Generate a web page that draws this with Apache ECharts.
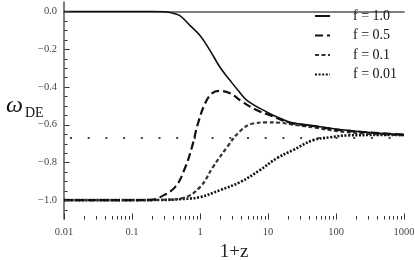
<!DOCTYPE html>
<html>
<head>
<meta charset="utf-8">
<script src="https://cdn.jsdelivr.net/npm/echarts@6/dist/echarts.min.js"></script>
<style>html,body{margin:0;padding:0;background:#fff}#c{width:415px;height:260px}</style>
</head>
<body>
<div id="c"></div>
<script>
// ---- data ----
const legendNames = ['f = 1.0', 'f = 0.5', 'f = 0.1', 'f = 0.01'];

const xF1 = [0.01, 0.1, 0.2, 0.3, 0.36, 0.5, 0.71, 1.0, 1.4, 1.97, 2.76, 3.62, 4.9, 9.7, 15, 21, 45, 145, 400, 1000];
const yF1 = [0, 0, 0, -0.002, -0.006, -0.021, -0.074, -0.127, -0.206, -0.296, -0.365, -0.418, -0.471, -0.534, -0.566, -0.587, -0.605, -0.630, -0.645, -0.653];

const xF05 = [0.01, 0.1, 0.2, 0.26, 0.43, 0.6, 0.76, 0.935, 1.19, 1.5, 1.9, 2.76, 4.28, 6.9, 10.7, 21, 45, 145, 1000];
const yF05 = [-1, -1, -0.997, -0.984, -0.931, -0.831, -0.72, -0.593, -0.487, -0.434, -0.421, -0.434, -0.481, -0.524, -0.55, -0.59, -0.607, -0.632, -0.653];

const xF01 = [0.01, 0.1, 0.3, 0.56, 1.0, 1.55, 2.49, 3.87, 6.0, 9.7, 15, 27, 45, 145, 1000];
const yF01 = [-1, -1, -0.998, -0.989, -0.931, -0.825, -0.72, -0.635, -0.594, -0.588, -0.59, -0.603, -0.614, -0.64, -0.656];

const xF001 = [0.01, 0.1, 0.3, 0.5, 1.0, 1.97, 3.87, 7.6, 13.5, 23.3, 45.5, 82, 145, 443, 1000];
const yF001 = [-1, -1, -0.999, -0.995, -0.984, -0.947, -0.905, -0.841, -0.778, -0.735, -0.683, -0.667, -0.657, -0.655, -0.655];

const refLevel = -0.667;

const xMajorTicks = [0.01, 0.1, 1, 10, 100, 1000];
const xTickLabels = ['0.01', '0.1', '1', '10', '100', '1000'];
const xMinorMultipliers = [2, 3, 4, 5, 6, 7, 8, 9];
const yMajorTicks = [-1.0, -0.8, -0.6, -0.4, -0.2, 0.0];
const yTickLabels = ['\u22121.0', '\u22120.8', '\u22120.6', '\u22120.4', '\u22120.2', '0.0'];
const yMinorTicks = [-1.05, -0.95, -0.9, -0.85, -0.75, -0.7, -0.65, -0.55, -0.5, -0.45, -0.35, -0.3, -0.25, -0.15, -0.1, -0.05];

// ---- build ----
const xMinorTicks = [];
xMajorTicks.slice(0, -1).forEach(d => xMinorMultipliers.forEach(m => xMinorTicks.push(+(d * m).toPrecision(3))));
const pairs = (xs, ys) => xs.map((x, i) => [x, ys[i]]);

const Y_MIN = -1.1, Y_MAX = 0.05, X_MIN = 0.01, X_MAX = 1000;

const serif = 'Liberation Serif';
const axisColor = '#555';

const labelGraphics = [
  {type: 'text', left: 6, top: 94, style: {text: 'ω', font: 'italic 24px "Liberation Serif"', fill: '#111'}},
  {type: 'text', left: 25, top: 106, style: {text: 'DE', font: '14px "Liberation Serif"', fill: '#111'}}
];

const chart = echarts.init(document.getElementById('c'), null, {renderer: 'canvas'});
chart.setOption({
  animation: false,
  backgroundColor: '#fff',
  grid: {left: 64, right: 11, top: 2, bottom: 41, containLabel: false, outerBoundsMode: 'none'},
  legend: {
    orient: 'vertical', left: 309, top: 4,
    itemWidth: 15, itemHeight: 12, itemGap: 5.5,
    data: legendNames,
    itemStyle: {opacity: 0},
    formatter: n => '{g|}' + n,
    textStyle: {fontFamily: serif, fontSize: 14, color: '#111',
      rich: {g: {width: 18}}}
  },
  xAxis: {
    type: 'log', logBase: 10, min: X_MIN, max: X_MAX,
    name: '1+z', nameLocation: 'middle', nameGap: 16,
    nameTextStyle: {fontFamily: serif, fontSize: 19, color: '#222'},
    axisLine: {lineStyle: {color: axisColor, width: 1.5}},
    axisTick: {show: false},
    axisLabel: {customValues: xMajorTicks, fontFamily: serif, fontSize: 10.5, color: '#444', margin: 8,
      formatter: v => xTickLabels[xMajorTicks.findIndex(t => Math.abs(Math.log10(t) - Math.log10(v)) < 1e-6)] ?? ''},
    splitLine: {show: false}
  },
  yAxis: {
    type: 'value', min: Y_MIN, max: Y_MAX,
    axisLine: {show: true, lineStyle: {color: axisColor, width: 1.5}},
    axisTick: {show: false},
    axisLabel: {customValues: yMajorTicks, fontFamily: serif, fontSize: 10.5, color: '#444', margin: 7,
      formatter: v => yTickLabels[yMajorTicks.findIndex(t => Math.abs(t - v) < 1e-6)] ?? ''},
    splitLine: {show: false}
  },
  graphic: labelGraphics,
  series: [
    {name: legendNames[3], type: 'line', smooth: 0.4, symbol: 'none', data: pairs(xF001, yF001),
      lineStyle: {color: '#111', width: 2.6, type: [2, 1.6]}, itemStyle: {color: '#111'}, z: 2},
    {name: legendNames[2], type: 'line', smooth: 0.4, symbol: 'none', data: pairs(xF01, yF01),
      lineStyle: {color: '#333', width: 2.2, type: [4, 2.5]}, itemStyle: {color: '#333'}, z: 3},
    {name: legendNames[1], type: 'line', smooth: 0.4, symbol: 'none', data: pairs(xF05, yF05),
      lineStyle: {color: '#111', width: 2.2, type: [8, 4]}, itemStyle: {color: '#111'}, z: 4},
    {name: legendNames[0], type: 'line', smooth: 0.4, symbol: 'none', data: pairs(xF1, yF1),
      lineStyle: {color: '#111', width: 1.6, type: 'solid'}, itemStyle: {color: '#111'}, z: 5,
      markLine: {silent: true, symbol: 'none', label: {show: false},
        lineStyle: {color: '#444', width: 2, type: [2, 15.7], dashOffset: -6},
        data: [{yAxis: refLevel}]}}
  ]
});

// Tick marks: positioned through the chart's own scales (convertToPixel)
const tickGraphics = [];
const addTick = (xv, yv, horizontal, len) => {
  const p = chart.convertToPixel({gridIndex: 0}, [xv, yv]);
  if (!p || !isFinite(p[0]) || !isFinite(p[1])) return;
  const x = Math.round(p[0]) + 0.5, y = Math.round(p[1]) + 0.5;
  tickGraphics.push({
    type: 'line', silent: true, z: 100,
    shape: horizontal ? {x1: x, y1: y, x2: x + len, y2: y} : {x1: x, y1: y, x2: x, y2: y - len},
    style: {stroke: '#333', lineWidth: 1}
  });
};
xMajorTicks.forEach(v => addTick(v, Y_MIN, false, 6));
xMinorTicks.forEach(v => addTick(v, Y_MIN, false, 3.5));
yMajorTicks.forEach(v => addTick(X_MIN, v, true, 5));
yMinorTicks.forEach(v => addTick(X_MIN, v, true, 3));

chart.setOption({graphic: labelGraphics.concat(tickGraphics)});
</script>
</body>
</html>
